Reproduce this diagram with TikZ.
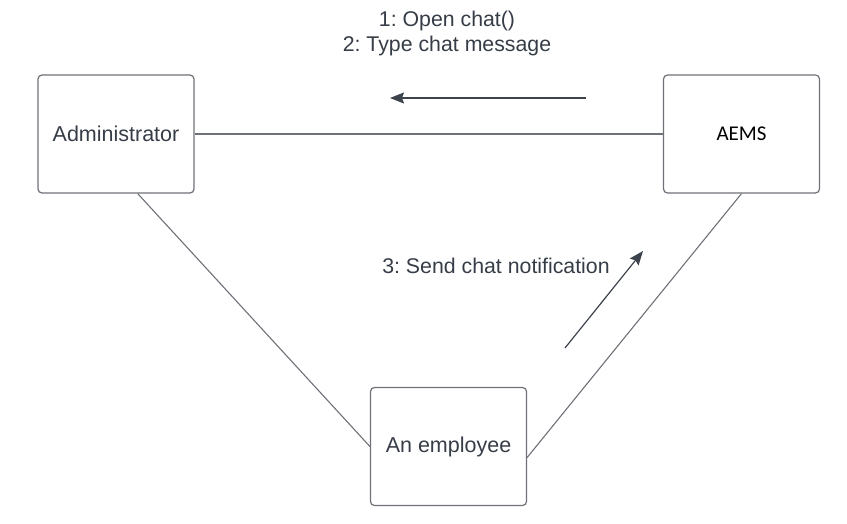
\documentclass[tikz,border=0pt]{standalone}
\usepackage{fontspec}
\setmainfont{Liberation Sans}
\newfontfamily\aemsfont{Carlito}
\usetikzlibrary{arrows.meta}
\frenchspacing
\definecolor{boxgray}{HTML}{6E7178}
\definecolor{textgray}{HTML}{363D47}
\definecolor{arrowgray}{HTML}{3C434D}
\tikzset{
  objbox/.style={draw=boxgray,line width=1.2pt,rounded corners=4pt,
    minimum width=156pt,minimum height=118pt,text=textgray,font=\fontsize{21.5}{25}\selectfont},
  link/.style={draw=boxgray,line width=1.1pt},
  msg/.style={draw=arrowgray,line width=1.2pt,-{Stealth[length=14pt,width=11pt,inset=2pt]}},
  msglabel/.style={text=textgray,font=\fontsize{21.3}{25}\selectfont,inner sep=0pt}
}
\begin{document}
\begin{tikzpicture}[x=1pt,y=-1pt]
                \useasboundingbox (0,0) rectangle (847,524);
                \node[objbox] (admin) at (116,134) {Administrator};
                \node[objbox,text=black,font=\aemsfont\fontsize{21}{25}\selectfont] (aems) at (741.5,134) {AEMS};
                \node[objbox] (employee) at (448.5,446.5) {An employee};
                \draw[link] (admin.east) -- (aems.west);
                \draw[link] (admin.-70) -- (employee.west);
                \draw[link] (aems.south) -- (employee.-8);
                % messages
                \node[msglabel] (open) at (447,21) {1: Open chat()};
                \node[msglabel] (type) at (447,46) {2: Type chat message};
                \node[msglabel] (notify) at (496,266) {3: Send chat notification};
                \coordinate (m1s) at (586,98);
                \coordinate (m1e) at (390,98);
                \coordinate (m3s) at (565,348);
                \coordinate (m3e) at (643,251);
                \draw[msg] (m1s) -- (m1e);
                \draw[msg] (m3s) -- (m3e);
            \end{tikzpicture}
\end{document}
